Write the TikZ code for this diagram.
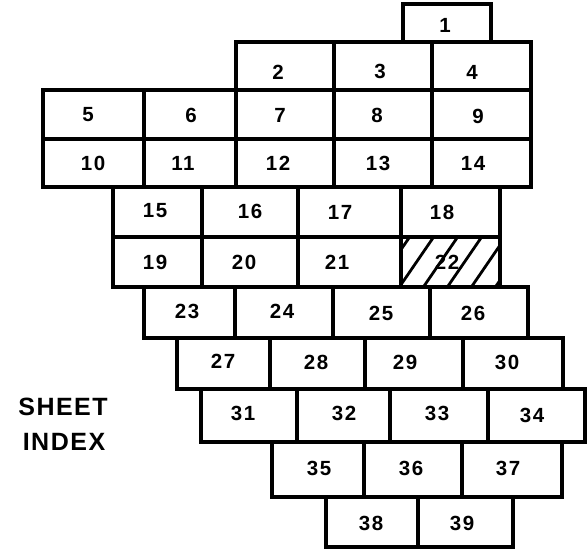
\documentclass[tikz,border=0pt]{standalone}
\usepackage{fontspec}
\setmainfont{Liberation Sans}
\newfontfamily\numfont[LetterSpace=8]{Liberation Sans}
\newfontfamily\titlefont[LetterSpace=6]{Liberation Sans}
\newcommand\sheetcell[7]{%
  \draw[cellline] (#2,#3) rectangle (#4,#5);
  \node[num] (n#1) at (#6,#7) {#1};}
\begin{document}
\begin{tikzpicture}[x=1pt,y=-1pt,
  cellline/.style={line width=3.2pt,line join=miter},
  num/.style={inner sep=0pt,font=\numfont\bfseries\fontsize{20.5}{20.5}\selectfont},
  titletext/.style={inner sep=0pt,font=\titlefont\bfseries\fontsize{25}{25}\selectfont},
  hatch/.style={line width=2.8pt}]
\useasboundingbox (0,0) rectangle (588,552);
% hatching of sheet 22
\begin{scope}
  \clip (401,237) rectangle (500,287);
  \foreach \x in {374,398,422,446,470,494}
    \draw[hatch] (\x,289) -- (\x+37,235);
\end{scope}
% row 0
\sheetcell{1}{403}{4}{491}{42}{445}{25}
% row 1
\sheetcell{2}{236}{42}{334}{90}{278}{72}
\sheetcell{3}{334}{42}{432}{90}{380}{71}
\sheetcell{4}{432}{42}{531}{90}{472}{72}
% row 2
\sheetcell{5}{43}{90}{144}{139}{88}{115}
\sheetcell{6}{144}{90}{236}{139}{191}{115}
\sheetcell{7}{236}{90}{334}{139}{280}{115}
\sheetcell{8}{334}{90}{432}{139}{377}{115}
\sheetcell{9}{432}{90}{531}{139}{478}{116}
% row 3
\sheetcell{10}{43}{139}{144}{187}{93}{163}
\sheetcell{11}{144}{139}{236}{187}{183}{163}
\sheetcell{12}{236}{139}{334}{187}{278}{163}
\sheetcell{13}{334}{139}{432}{187}{378}{163}
\sheetcell{14}{432}{139}{531}{187}{473}{163}
% row 4
\sheetcell{15}{113}{187}{202}{237}{155}{211}
\sheetcell{16}{202}{187}{298}{237}{250}{211}
\sheetcell{17}{298}{187}{401}{237}{340}{212}
\sheetcell{18}{401}{187}{500}{237}{442}{212}
% row 5
\sheetcell{19}{113}{237}{202}{287}{155}{262}
\sheetcell{20}{202}{237}{298}{287}{244}{262}
\sheetcell{21}{298}{237}{401}{287}{337}{262}
\sheetcell{22}{401}{237}{500}{287}{447}{262}
% row 6
\sheetcell{23}{144}{287}{235}{338}{187}{311}
\sheetcell{24}{235}{287}{333}{338}{282}{311}
\sheetcell{25}{333}{287}{430}{338}{381}{313}
\sheetcell{26}{430}{287}{528}{338}{473}{313}
% row 7
\sheetcell{27}{177}{338}{270}{389}{223}{361}
\sheetcell{28}{270}{338}{365}{389}{316}{362}
\sheetcell{29}{365}{338}{463}{389}{405}{362}
\sheetcell{30}{463}{338}{563}{389}{507}{362}
% row 8
\sheetcell{31}{201}{389}{297}{442}{243}{413}
\sheetcell{32}{297}{389}{390}{442}{344}{413}
\sheetcell{33}{390}{389}{488}{442}{437}{413}
\sheetcell{34}{488}{389}{585}{442}{532}{415}
% row 9
\sheetcell{35}{272}{442}{364}{497}{319}{468}
\sheetcell{36}{364}{442}{462}{497}{411}{468}
\sheetcell{37}{462}{442}{562}{497}{508}{468}
% row 10
\sheetcell{38}{326}{497}{418}{547}{371}{523}
\sheetcell{39}{418}{497}{513}{547}{462}{523}
% title
\node[titletext] (sheet) at (63,407) {SHEET};
\node[titletext] (index) at (64,442) {INDEX};
\end{tikzpicture}
\end{document}
